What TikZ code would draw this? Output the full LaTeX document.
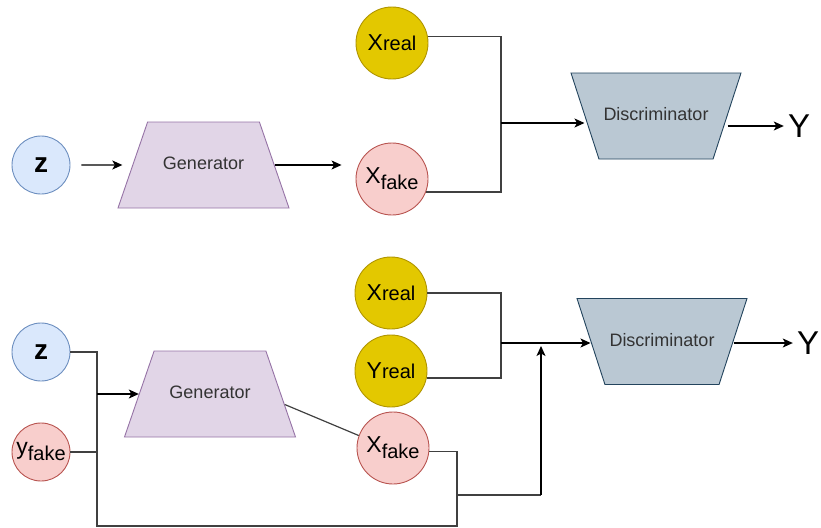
\documentclass[tikz,border=0pt]{standalone}
\usepackage{fontspec}
\setmainfont{Liberation Sans}
\definecolor{ganblue}{HTML}{DAE8FC}
\definecolor{ganblueline}{HTML}{6C8EBF}
\definecolor{ganred}{HTML}{F8CECC}
\definecolor{ganredline}{HTML}{B85450}
\definecolor{ganpurple}{HTML}{E1D5E7}
\definecolor{ganpurpleline}{HTML}{9673A6}
\definecolor{ganyellow}{HTML}{E3C800}
\definecolor{ganyellowline}{HTML}{B09500}
\definecolor{gangray}{HTML}{BAC8D3}
\definecolor{gangrayline}{HTML}{23445D}
\usetikzlibrary{arrows.meta,shapes.geometric,calc}
\newcommand{\realtxt}[1]{{\fontsize{23}{24}\selectfont #1}{\fontsize{20}{21}\selectfont real}}
\newcommand{\faketxt}[1]{{\fontsize{23}{24}\selectfont #1}\raisebox{-6pt}{\fontsize{20}{21}\selectfont fake}}

\begin{document}
\begin{tikzpicture}[x=1pt, y=-1pt,
  noisec/.style={circle, draw=ganblueline, fill=ganblue, line width=0.9pt, minimum size=58pt, inner sep=0pt, font=\fontsize{28}{30}\selectfont\bfseries},
  fakes/.style={circle, draw=ganredline, fill=ganred, line width=0.9pt, minimum size=58pt, inner sep=0pt},
  fakec/.style={circle, draw=ganredline, fill=ganred, line width=0.9pt, minimum size=72pt, inner sep=0pt},
  realc/.style={circle, draw=ganyellowline, fill=ganyellow, line width=0.9pt, minimum size=72pt, inner sep=0pt},
  genbox/.style={trapezium, trapezium stretches body=true, trapezium left angle=71, trapezium right angle=71, draw=ganpurpleline, fill=ganpurple, line width=0.9pt, minimum width=171pt, text height=13pt, text depth=4pt, inner ysep=34.5pt, font=\fontsize{18}{20}\selectfont, text=black!80},
  discbox/.style={trapezium, trapezium stretches body=true, shape border rotate=180, trapezium left angle=72, trapezium right angle=72, draw=gangrayline, fill=gangray, line width=0.9pt, minimum width=170pt, text height=13pt, text depth=4pt, inner ysep=34.5pt, font=\fontsize{18}{20}\selectfont, text=black!80},
  outtxt/.style={inner sep=4pt, font=\fontsize{33}{35}\selectfont},
  wire/.style={draw=black!75, line width=1.2pt},
  flow/.style={draw=black, line width=1.2pt, -{Stealth[length=10pt,width=9pt,inset=2.5pt]}}]
  \useasboundingbox (0,0) rectangle (821,527);

  \node[noisec] (z1) at (41,165) {z};
  \node[genbox] (gen1) at (203.5,165) {Generator};
  \node[realc] (xr1) at (392,43) {\realtxt{X}};
  \node[fakec] (xf1) at (392,179) {\faketxt{X}};
  \node[discbox] (d1) at (656,116) {Discriminator};
  \node[outtxt] (y1) at (799,126) {Y};
  \coordinate (j1) at (501,123);

  \draw[flow, shorten <=11pt, shorten >=10pt] (z1.east) -- (gen1.west);
  \draw[flow, shorten >=14pt] (gen1.east) -- (gen1.east -| xf1.west);
  \draw[wire] (xr1.10) -| (j1 |- xf1.-21) -- (xf1.-21);
  \draw[flow] (j1) -- (j1 -| d1.west);
  \draw[flow] (y1 -| d1.east) -- (y1.west);

  \node[noisec] (z2) at (41,352) {z};
  \node[fakes] (yf2) at (41,452) {\faketxt{y}};
  \node[genbox] (gen2) at (210,394) {Generator};
  \node[realc] (xr2) at (391,293) {\realtxt{X}};
  \node[realc] (yr2) at (391,371) {\realtxt{Y}};
  \node[fakec] (xf2) at (393,448) {\faketxt{X}};
  \node[discbox] (d2) at (662,341.5) {Discriminator};
  \node[outtxt] (y2) at (808,343) {Y};
  \coordinate (j2) at (501,343);
  \coordinate (ja) at (97,526);
  \coordinate (jb) at (457,526);
  \coordinate (jc) at (457,495);
  \coordinate (jd) at (541,495);
  \coordinate (je) at (541,346);

  \draw[wire] (xr2.east) -| (j2 |- yr2.-11) -- (yr2.-11);
  \draw[flow] (j2) -- (j2 -| d2.west);
  \draw[flow] (y2 -| d2.east) -- (y2.west);
  \draw[wire] (z2.east) -| (ja) -- (jb) |- (xf2.-6);
  \draw[wire] (yf2.east) -- (yf2.east -| ja);
  \draw[flow] (gen2.west -| ja) -- (gen2.west);
  \draw[wire] (gen2.-8) -- (xf2.160);
  \draw[wire] (jc) -- (jd);
  \draw[flow] (jd) -- (je);
\end{tikzpicture}
\end{document}
